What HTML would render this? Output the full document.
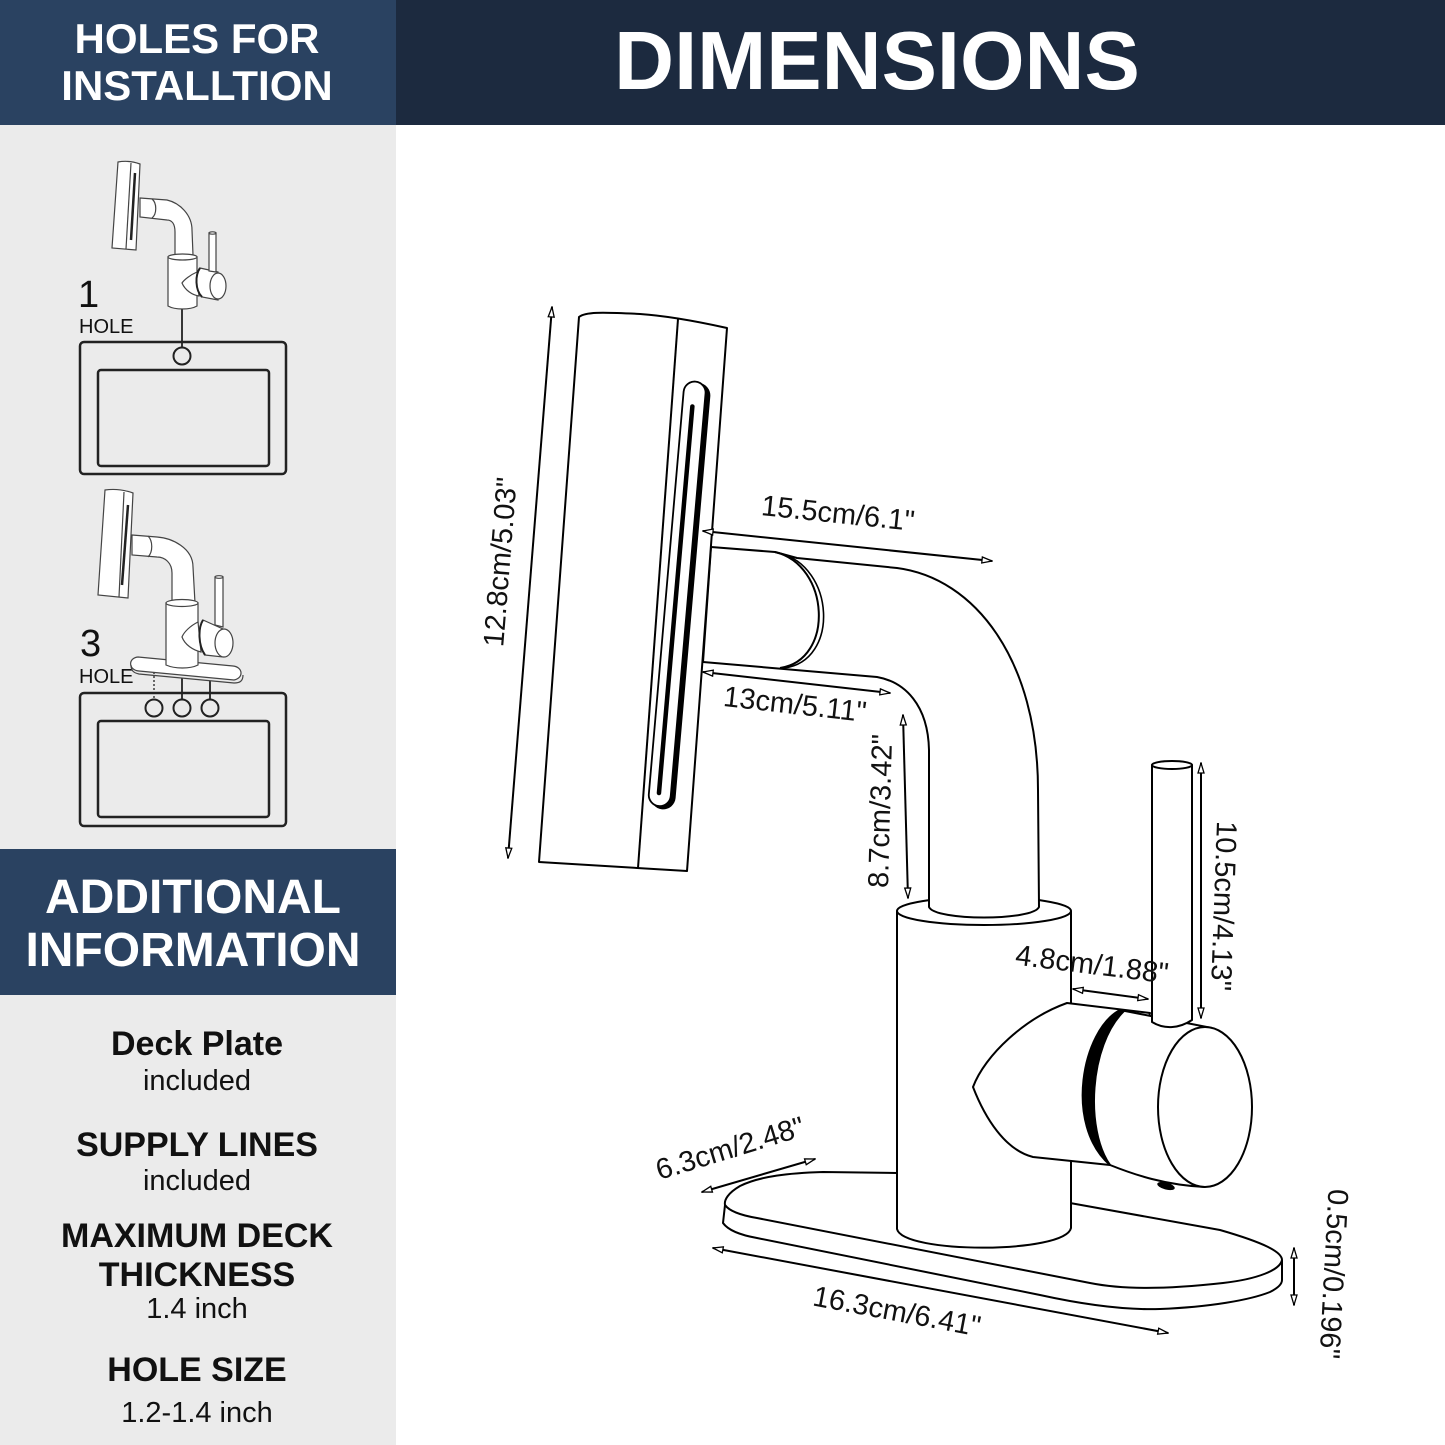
<!DOCTYPE html>
<html><head><meta charset="utf-8"><style>html,body{margin:0;padding:0;background:#fff}svg{display:block}</style></head>
<body>
<svg width="1445" height="1445" viewBox="0 0 1445 1445" xmlns="http://www.w3.org/2000/svg" font-family="'Liberation Sans', Arial, sans-serif">
<defs>
<marker id="ah" viewBox="0 0 12 8" refX="11" refY="4" markerWidth="12" markerHeight="8" markerUnits="userSpaceOnUse" orient="auto-start-reverse">
<path d="M1,1 L11,4 L1,7 Z" fill="#fff" stroke="#000" stroke-width="1.3"/>
</marker>
</defs>

<!-- backgrounds -->
<rect x="0" y="0" width="1445" height="1445" fill="#fff"/>
<rect x="0" y="0" width="396" height="1445" fill="#ebebeb"/>
<rect x="0" y="0" width="396" height="125" fill="#2a4261"/>
<rect x="396" y="0" width="1049" height="125" fill="#1c2a3f"/>
<rect x="0" y="849" width="396" height="146" fill="#2a4261"/>

<!-- header texts -->
<g fill="#fff" font-weight="bold" text-anchor="middle">
<text x="197" y="53" font-size="42">HOLES FOR</text>
<text x="197" y="100" font-size="42">INSTALLTION</text>
<text x="877" y="89" font-size="83">DIMENSIONS</text>
<text x="193" y="913" font-size="48">ADDITIONAL</text>
<text x="193" y="966" font-size="48">INFORMATION</text>
</g>

<!-- info texts -->
<g fill="#111" text-anchor="middle">
<text x="197" y="1055" font-size="34" font-weight="bold">Deck Plate</text>
<text x="197" y="1090" font-size="29">included</text>
<text x="197" y="1156" font-size="34" font-weight="bold">SUPPLY LINES</text>
<text x="197" y="1190" font-size="29">included</text>
<text x="197" y="1247" font-size="34" font-weight="bold">MAXIMUM DECK</text>
<text x="197" y="1286" font-size="34" font-weight="bold">THICKNESS</text>
<text x="197" y="1318" font-size="29">1.4 inch</text>
<text x="197" y="1381" font-size="34" font-weight="bold">HOLE SIZE</text>
<text x="197" y="1422" font-size="29">1.2-1.4 inch</text>
</g>

<!-- hole labels -->
<g fill="#111">
<text x="78" y="307" font-size="38">1</text>
<text x="79" y="333" font-size="20">HOLE</text>
<text x="80" y="656" font-size="38">3</text>
<text x="79" y="683" font-size="20">HOLE</text>
</g>

<!-- 1 HOLE icon -->
<g stroke="#222" fill="none">
<rect x="80" y="342" width="206" height="132" rx="4" stroke-width="2.5"/>
<rect x="98" y="370" width="171" height="96" rx="3" stroke-width="2.5"/>
<circle cx="182" cy="356" r="8.5" stroke-width="2"/>
<line x1="182" y1="309" x2="182" y2="347" stroke-width="1.8"/>
</g>
<g stroke="#444" stroke-width="1.2" fill="#fff">
<path d="M140,198 L167,200 C180,203 192,215 192,230 L193,255 L175,255 L175,232 C175,224 172,220 167,220 L140,217 Z"/>
<path d="M152,199 C157,203 157,214 152,218" fill="none"/>
<path d="M118,162 Q129,160 140,164 L136,250 L112,248 Z"/>
<path d="M131,163 L126,249" fill="none"/>
<path d="M135,173 L131,240" fill="none" stroke="#222" stroke-width="2.5"/>
<path d="M168,257 L168,306 C175,310 190,310 197,306 L197,257 Z"/>
<ellipse cx="182.5" cy="257" rx="14.5" ry="3"/>
<path d="M197,272 C190,275 184,280 182,283 C185,290 192,295 199,296 Z"/>
<path d="M200,268 L218,272 L218,300 L202,297 C195,290 195,275 200,268 Z"/>
<ellipse cx="218" cy="286" rx="8" ry="13"/>
<path d="M200,268 C195,275 195,290 202,297" fill="none" stroke="#222" stroke-width="2"/>
<path d="M209,233 L209,271 L216,272 L216,233 Z"/>
<ellipse cx="212.5" cy="233" rx="3.5" ry="1.2"/>
</g>

<!-- 3 HOLE icon -->
<g stroke="#222" fill="none">
<rect x="80" y="693" width="206" height="133" rx="4" stroke-width="2.5"/>
<rect x="98" y="721" width="171" height="96" rx="3" stroke-width="2.5"/>
<circle cx="154" cy="708" r="8.5" stroke-width="2"/>
<circle cx="182" cy="708" r="8.5" stroke-width="2"/>
<circle cx="210" cy="708" r="8.5" stroke-width="2"/>
<line x1="154" y1="672" x2="154" y2="699" stroke-width="1.3" stroke-dasharray="2,2"/>
<line x1="182" y1="678" x2="182" y2="699" stroke-width="1.8"/>
<line x1="210" y1="681" x2="210" y2="699" stroke-width="1.8"/>
</g>
<g stroke="#444" stroke-width="1.2" fill="#fff">
<path d="M138,657 L233,666 C243,667 244,678 234,680 L139,671 C128,670 128,658 138,657 Z"/>
<path d="M131,665 C131,671 134,673 139,674 L234,683 C240,683 243,681 243,675" fill="none"/>
<path d="M132,535 L157,537 C172,538 193,548 193,567 L195,603 L172,603 L172,573 C172,563 165,557 157,557 L132,555 Z"/>
<path d="M148,536 C153,541 153,552 148,557" fill="none"/>
<path d="M105,490 Q119,488 133,493 L128,598 L98,595 Z"/>
<path d="M124,492 L119,597" fill="none"/>
<path d="M128,505 L122,585" fill="none" stroke="#222" stroke-width="2.5"/>
<path d="M166,603 L166,665 C175,669 190,669 198,665 L198,603 Z"/>
<ellipse cx="182" cy="603" rx="16" ry="3.5"/>
<path d="M198,622 C190,626 184,632 182,637 C185,645 193,650 201,652 Z"/>
<path d="M203,620 L223,629 L223,657 L205,655 C198,645 198,628 203,620 Z"/>
<ellipse cx="224" cy="643" rx="9" ry="14"/>
<path d="M203,620 C198,628 198,645 205,655" fill="none" stroke="#222" stroke-width="2"/>
<path d="M215,577 L215,625 L223,627 L223,577 Z"/>
<ellipse cx="219" cy="577" rx="4" ry="1.3"/>
</g>

<!-- MAIN FAUCET -->
<g stroke="#000" stroke-width="2" fill="#fff" stroke-linejoin="round">
<!-- deck plate -->
<path d="M897,1173 L823,1172 C790,1173 760,1176 740,1186 C728,1193 724,1200 725,1205 L723,1223 C728,1230 740,1235 757,1238 L1040,1295 C1090,1306 1130,1310 1160,1309 C1210,1307 1250,1300 1270,1292 C1280,1287 1282,1283 1282,1280 L1282,1260 C1282,1252 1265,1243 1220,1230 L1070,1203 Z"/>
<path d="M725,1205 C730,1212 745,1216 757,1218 L1090,1283 C1120,1289 1160,1290 1223,1283 C1258,1279 1280,1270 1282,1260" fill="none"/>
<!-- body -->
<path d="M897,911 L897,1229 C903,1254 1065,1254 1071,1228 L1071,911 Z"/>
<ellipse cx="984" cy="911" rx="87" ry="14"/>
<!-- pipe -->
<path d="M711,547 L775,552 L797,558 L897,568 C975,578 1038,660 1038,790 L1039,907 C1033,921 935,921 929,907 L929,750 C928,705 905,682 877,677 L703,662 Z"/>
<path d="M775,552 C830,565 835,660 780,668" fill="none"/>
<path d="M779,553 C835,566 840,661 784,668" fill="none" stroke-width="1.6"/>
<!-- spout panel -->
<path d="M579,317 C585,312 600,312 640,314 C670,316 700,322 727,328 L687,871 L539,862 Z"/>
<path d="M678,319 L638,868" fill="none"/>
<!-- cone -->
<path d="M1067,1003 C1025,1018 985,1055 973,1087 C985,1118 1005,1150 1033,1157 L1110,1165 L1150,1013 Z"/>
<!-- knob -->
<path d="M1120,1010 L1205,1027 L1205,1187 L1110,1165 C1064,1125 1082,1030 1120,1010 Z" stroke="none"/>
<path d="M1120,1010 L1212,1028" fill="none"/>
<path d="M1110,1165 C1135,1175 1165,1185 1205,1187" fill="none"/>
<ellipse cx="1205" cy="1107" rx="47" ry="80"/>
<path d="M1120,1010 C1082,1030 1064,1125 1110,1165 C1085,1130 1089,1045 1124,1011 Z" fill="#000"/>
<ellipse cx="1166" cy="1186" rx="9" ry="3.5" fill="#000" stroke="none" transform="rotate(15 1166 1186)"/>
<!-- lever -->
<path d="M1152,765 L1152,1022 C1165,1030 1180,1028 1192,1020 L1192,765 Z"/>
<ellipse cx="1172" cy="765" rx="20" ry="4"/>
</g>
<!-- slot -->
<g transform="translate(679,596) rotate(4.94)">
<rect x="-11" y="-214" width="25" height="428" rx="12.5" fill="#000"/>
<rect x="-13" y="-215" width="22" height="426" rx="11" fill="#fff" stroke="#000" stroke-width="1.8"/>
<line x1="-3" y1="-190" x2="-3" y2="198" stroke="#000" stroke-width="4.5" stroke-linecap="round"/>
</g>

<!-- dimension arrows -->
<g stroke="#000" stroke-width="2" fill="none" marker-start="url(#ah)" marker-end="url(#ah)">
<line x1="552" y1="307" x2="508" y2="858"/>
<line x1="703" y1="531" x2="992" y2="561"/>
<line x1="703" y1="672" x2="890" y2="693"/>
<line x1="903" y1="715" x2="908" y2="898"/>
<line x1="1201" y1="763" x2="1201" y2="1018"/>
<line x1="1073" y1="989" x2="1148" y2="999"/>
<line x1="702" y1="1192" x2="815" y2="1159"/>
<line x1="713" y1="1248" x2="1168" y2="1333"/>
<line x1="1294" y1="1248" x2="1294" y2="1305"/>
</g>

<!-- dimension labels -->
<g fill="#111" font-size="29" text-anchor="middle">
<text transform="translate(500,562) rotate(-85.4)" y="10">12.8cm/5.03"</text>
<text transform="translate(838,513) rotate(5.9)" y="10">15.5cm/6.1"</text>
<text transform="translate(795,704) rotate(6.4)" y="10">13cm/5.11"</text>
<text transform="translate(880,811) rotate(-88.5)" y="10">8.7cm/3.42"</text>
<text transform="translate(1224,906) rotate(92)" y="10">10.5cm/4.13"</text>
<text transform="translate(1092,964) rotate(7)" y="10">4.8cm/1.88"</text>
<text transform="translate(730,1148) rotate(-17)" y="10">6.3cm/2.48"</text>
<text transform="translate(897,1311) rotate(10.6)" y="10">16.3cm/6.41"</text>
<text transform="translate(1334,1274) rotate(93)" y="10">0.5cm/0.196"</text>
</g>
</svg>
</body></html>
